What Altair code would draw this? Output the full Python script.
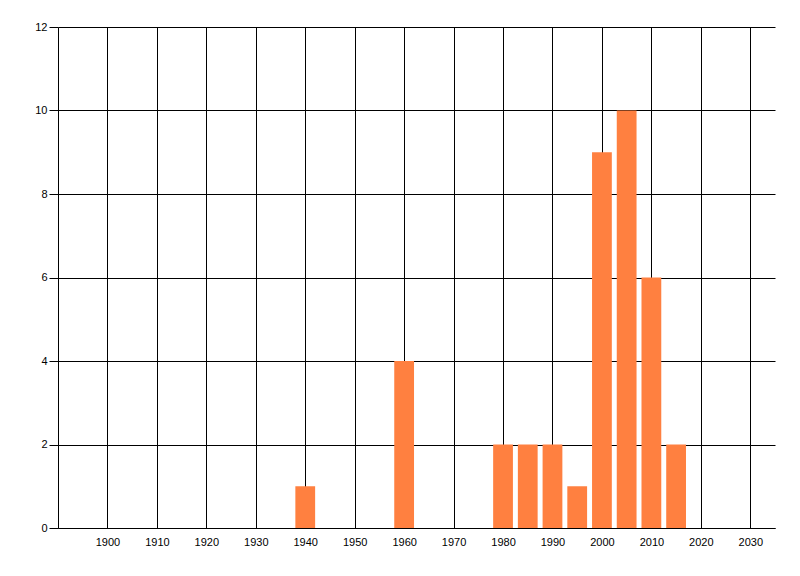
import altair as alt
import pandas as pd

# bar centres (years) and their counts
years = [1940, 1960, 1980, 1985, 1990, 1995, 2000, 2005, 2010, 2015]
counts = [1, 4, 2, 2, 2, 1, 9, 10, 6, 2]

x_ticks = list(range(1900, 2031, 10))
y_ticks = [0, 2, 4, 6, 8, 10, 12]

BAR_COLOR = "#FF8040"
FONT = "Liberation Sans"

df = pd.DataFrame({"year": years, "count": counts})

x_scale = alt.Scale(domain=[1890, 2035], nice=False, zero=False)
y_scale = alt.Scale(domain=[0, 12], nice=False)

bars = (
    alt.Chart(df)
    .transform_calculate(start="datum.year - 2", end="datum.year + 2")
    .mark_bar(color=BAR_COLOR, opacity=1)
    .encode(
        x=alt.X(
            "start:Q",
            scale=x_scale,
            title=None,
            axis=alt.Axis(
                values=x_ticks,
                format="d",
                ticks=False,
                labelPadding=8,
                labelFont=FONT,
                labelFontSize=11,
                labelColor="black",
                domainColor="black",
                domainWidth=1,
                grid=True,
                gridColor="black",
                gridWidth=1,
                gridOpacity=1,
            ),
        ),
        x2="end:Q",
        y=alt.Y(
            "count:Q",
            scale=y_scale,
            title=None,
            axis=alt.Axis(
                values=y_ticks,
                tickSize=9,
                tickColor="black",
                tickWidth=1,
                labelPadding=2,
                labelFont=FONT,
                labelFontSize=11,
                labelColor="black",
                domainColor="black",
                domainWidth=1,
                grid=True,
                gridColor="black",
                gridWidth=1,
                gridOpacity=1,
            ),
        ),
        y2=alt.datum(0),
    )
)

chart = (
    bars.properties(
        width=717,
        height=501,
        autosize=alt.AutoSizeParams(type="none"),
        padding={"left": 50, "top": 19, "right": 10, "bottom": 30},
        background="white",
    )
    .configure_view(stroke=None)
)

chart.save("out.html", embed_options={"renderer": "svg", "actions": False})
